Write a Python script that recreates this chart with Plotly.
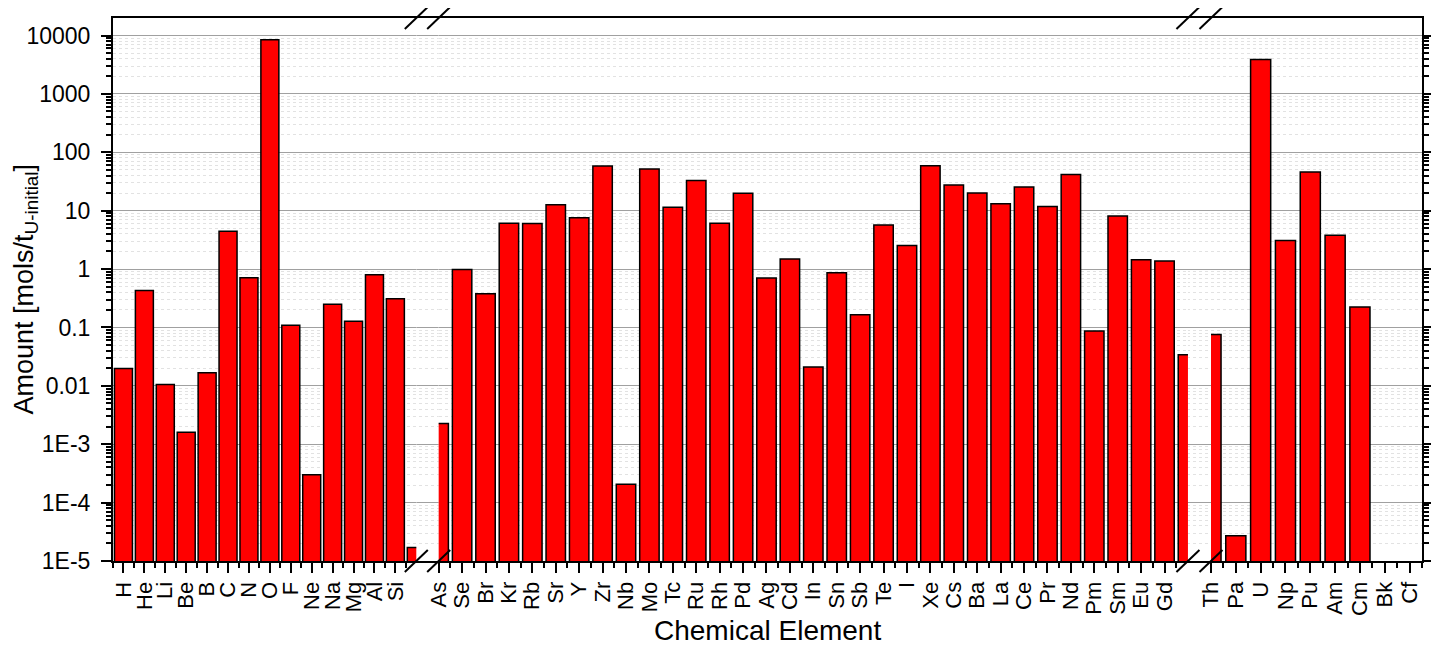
import plotly.graph_objects as go

# --- data (mols per tonne of initial U) ---
sec1_elements = ["H", "He", "Li", "Be", "B", "C", "N", "O", "F", "Ne", "Na", "Mg", "Al", "Si", "P"]
sec1_values = [0.0198, 0.43, 0.0105, 0.0016, 0.0167, 4.43, 0.71, 8440, 0.109, 3.0e-4,
               0.25, 0.128, 0.80, 0.31, 1.7e-5]

sec2_elements = ["As", "Se", "Br", "Kr", "Rb", "Sr", "Y", "Zr", "Nb", "Mo", "Tc", "Ru", "Rh",
                 "Pd", "Ag", "Cd", "In", "Sn", "Sb", "Te", "I", "Xe", "Cs", "Ba", "La", "Ce",
                 "Pr", "Nd", "Pm", "Sm", "Eu", "Gd", "Tb"]
sec2_values = [0.00227, 0.98, 0.378, 6.1, 6.05, 12.6, 7.6, 58, 2.07e-4, 51.5, 11.4, 33, 6.1,
               19.8, 0.70, 1.48, 0.0211, 0.865, 0.165, 5.67, 2.54, 58.8, 27.4, 20.0, 13.1, 25.4,
               11.8, 41.8, 0.0867, 8.08, 1.44, 1.37, 0.034]

sec3_elements = ["Th", "Pa", "U", "Np", "Pu", "Am", "Cm", "Bk", "Cf"]
sec3_values = [0.076, 2.7e-5, 3880, 3.1, 46, 3.78, 0.223, None, None]

# elements sitting on a break edge get no label
sec1_labels = sec1_elements[:-1]
sec2_labels = sec2_elements[:-1]
sec3_labels = sec3_elements

y_ticks = [1e-5, 1e-4, 1e-3, 0.01, 0.1, 1, 10, 100, 1000, 10000]
y_ticktext = ["1E-5", "1E-4", "1E-3", "0.01", "0.1", "1", "10", "100", "1000", "10000"]

FONT = "Liberation Sans, Arial, sans-serif"
BAR_RED = "#FF0000"

# section layout: (axis number, domain, range, bar width)
sections = [
    (2, [0.0, 0.2317], [-0.5, len(sec1_elements) - 1], 0.86, sec1_elements, sec1_values, sec1_labels),
    (3, [0.2488, 0.8212], [0, len(sec2_elements) - 1], 0.83, sec2_elements, sec2_values, sec2_labels),
    (4, [0.8388, 1.0], [0, len(sec3_elements) - 0.5], 0.81, sec3_elements, sec3_values, sec3_labels),
]

fig = go.Figure()

# dummy trace on the full-width base axis (carries frame + continuous grid)
fig.add_trace(go.Scatter(x=[0.5], y=[None], xaxis="x", yaxis="y", showlegend=False, hoverinfo="skip"))

for n, dom, rng, w, elems, vals, labels in sections:
    xs = list(range(len(elems)))
    fig.add_trace(go.Bar(
        x=xs, y=vals, width=w, xaxis=f"x{n}", yaxis="y",
        marker=dict(color=BAR_RED, line=dict(color="black", width=1.5)),
        customdata=elems, hovertemplate="%{customdata}: %{y}<extra></extra>",
        showlegend=False,
    ))
    tick_common = dict(range=rng, type="linear", showgrid=False, zeroline=False,
                       showline=False, automargin=False)
    fig.layout[f"xaxis{n}"] = dict(
        domain=dom, anchor="y", **tick_common,
        tickmode="array", tickvals=list(range(len(labels))), ticktext=labels,
        ticks="outside", ticklen=11, tickwidth=2, tickcolor="black",
        tickangle=-90, tickfont=dict(size=22, family=FONT, color="black"),
        minor=dict(tickmode="linear", tick0=0.5, dtick=1, ticks="outside", ticklen=6,
                   tickwidth=2, tickcolor="black"),
    )
    # inward ticks along the top edge
    fig.layout[f"xaxis{n + 3}"] = dict(
        overlaying=f"x{n}", anchor="y", side="top", **tick_common,
        tickmode="array", tickvals=list(range(len(labels))), showticklabels=False,
        ticks="inside", ticklen=11, tickwidth=2, tickcolor="black",
        minor=dict(tickmode="linear", tick0=0.5, dtick=1, ticks="inside", ticklen=6,
                   tickwidth=2, tickcolor="black"),
    )

minor_vals = [m * 10 ** e for e in range(-5, 5) for m in range(2, 10)]

# the page body adds an 8px margin, so the figure is sized to fit inside it
fig.update_layout(
    width=1431, height=637,
    margin=dict(l=105, r=17, t=10, b=84),
    paper_bgcolor="white", plot_bgcolor="white",
    font=dict(family=FONT, color="black"),
    showlegend=False,
    xaxis=dict(domain=[0, 1], range=[0, 1], anchor="y", showline=True, linecolor="black",
               linewidth=2, mirror=True, showgrid=False, zeroline=False, automargin=False,
               showticklabels=False, ticks=""),
    yaxis=dict(
        type="log", range=[-5, 4.30], anchor="x", automargin=False,
        showline=True, linecolor="black", linewidth=2, mirror="ticks",
        tickmode="array", tickvals=y_ticks, ticktext=y_ticktext,
        ticks="outside", ticklen=10, tickwidth=2, tickcolor="black", ticklabelstandoff=6,
        tickfont=dict(size=23, family=FONT, color="black"),
        showgrid=True, gridcolor="#a0a0a0", gridwidth=1, zeroline=False,
        minor=dict(tickmode="array", tickvals=minor_vals, ticks="outside", ticklen=5,
                   tickwidth=1.5, tickcolor="black", showgrid=True, gridcolor="#e2e2e2",
                   griddash="dot", gridwidth=1),
    ),
    annotations=[
        dict(text="Chemical Element", x=0.5, y=0, xref="paper", yref="paper",
             xanchor="center", yanchor="top", yshift=-52, showarrow=False,
             font=dict(size=28, family=FONT, color="black")),
        dict(text="Amount [mols/t<sub>U-initial</sub>]", x=0, y=0.5, xref="paper", yref="paper",
             xanchor="right", yanchor="middle", xshift=-69, textangle=-90, showarrow=False,
             font=dict(size=27, family=FONT, color="black")),
    ],
)

# axis-break marks: a slash pair at each break edge, top and bottom
break_edges = [sections[0][1][1], sections[1][1][0], sections[1][1][1], sections[2][1][0]]
for edge in break_edges:
    for yanc in (0, 1):
        fig.add_shape(type="line", xref="paper", yref="paper",
                      xsizemode="pixel", ysizemode="pixel", xanchor=edge, yanchor=yanc,
                      x0=-11.5, y0=-11, x1=11.5, y1=11,
                      line=dict(color="black", width=2))

fig.write_html("out.html")
